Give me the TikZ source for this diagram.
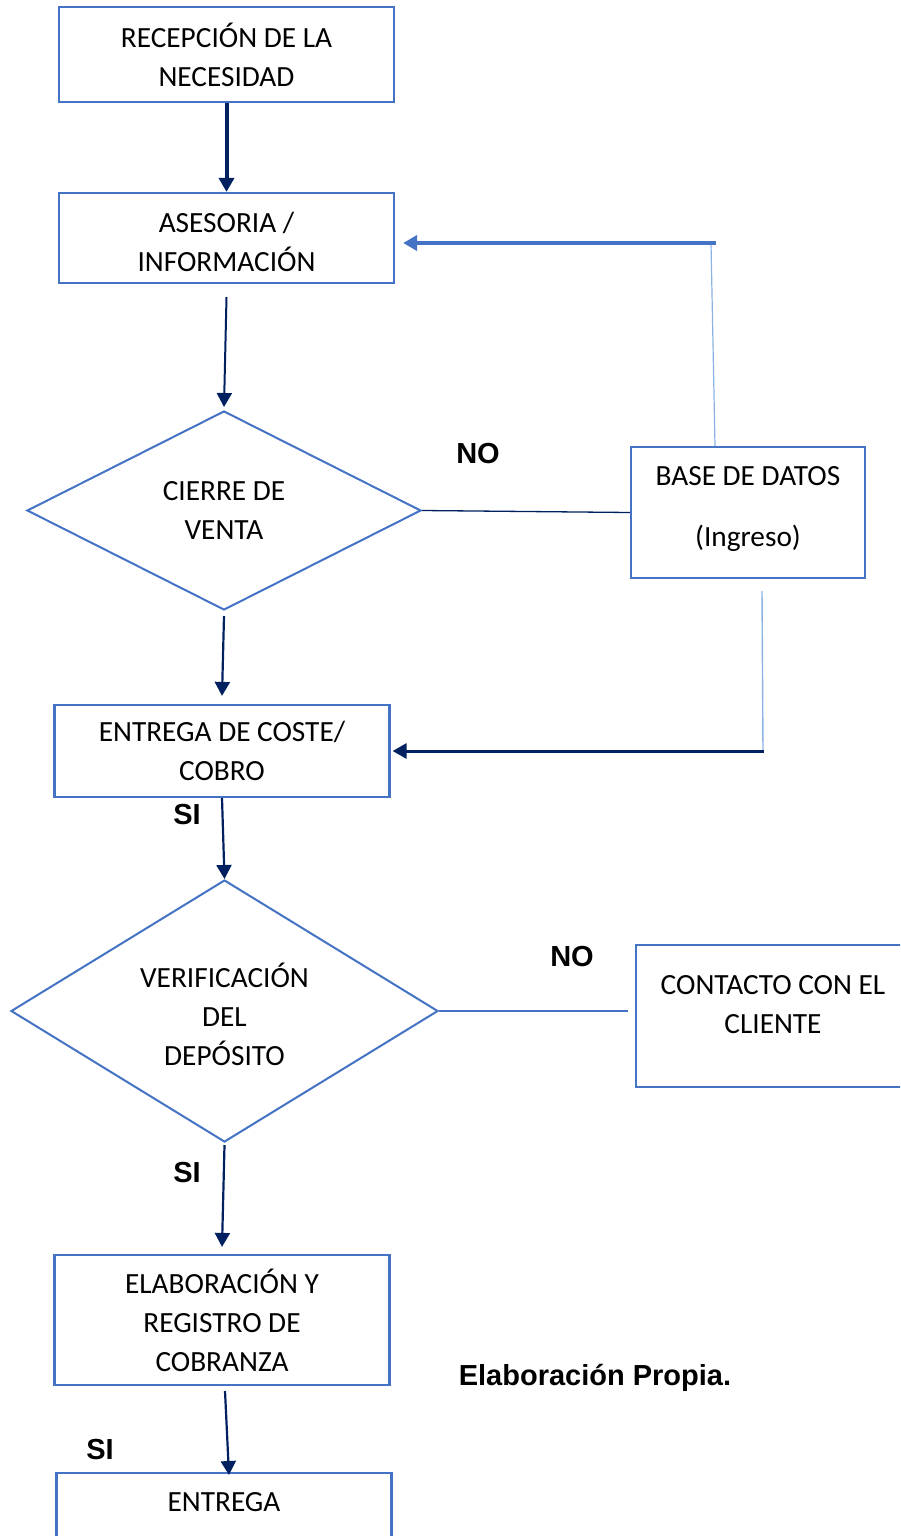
\documentclass[tikz,border=0pt]{standalone}
\usepackage{fontspec}
\setmainfont{Carlito}
\newfontfamily\labelfont{Liberation Sans}
\usetikzlibrary{shapes.geometric,arrows.meta}
\definecolor{boxblue}{HTML}{4472C4}
\definecolor{navy}{HTML}{002060}
\definecolor{lightline}{HTML}{8AB2E2}

\begin{document}
\begin{tikzpicture}[x=1pt,y=-1pt,
  every node/.style={font=\fontsize{29.3}{39}\selectfont,align=center},
  procbox/.style={draw=boxblue,line width=2.2pt,rectangle,minimum width=335pt,inner sep=0pt},
  decision/.style={draw=boxblue,line width=2pt,diamond,aspect=1.6,inner sep=0pt},
  tip/.style={-{Triangle[width=15pt,length=14pt]}},
  flow/.style={draw=navy,tip},
  tag/.style={font=\labelfont\bfseries\fontsize{29}{34}\selectfont}]

\useasboundingbox (0,0) rectangle (900,1536);
\clip (0,0) rectangle (900,1536);

% process steps
\node[procbox,minimum height=95pt] (recep) at (226.5,54.5) {RECEPCIÓN DE LA\\NECESIDAD};
\node[procbox,minimum height=90pt] (aseso) at (226.5,238) {};
\node (asesotxt) at (226.5,242) {ASESORIA /\\INFORMACIÓN};
\node[decision,minimum width=394pt,minimum height=199pt] (cierre) at (224,510.5) {CIERRE DE\\VENTA};
\node[procbox,minimum width=234pt,minimum height=131pt] (base) at (748,512.5) {};
\node (basetxt) at (748,509) {BASE DE DATOS\\[22pt](Ingreso)};
\node[procbox,minimum height=92pt] (coste) at (222,751) {ENTREGA DE COSTE/\\COBRO};
\node[decision,minimum width=427pt,minimum height=262pt] (verif) at (224.5,1011) {};
\node (veriftxt) at (224.5,1014) {VERIFICACIÓN\\DEL\\DEPÓSITO};
\node[procbox,minimum width=300pt,minimum height=142pt,anchor=north west] (contacto) at (635,944) {};
\node (contactotxt) at (773,1005) {CONTACTO CON EL\\CLIENTE};
\node[procbox,minimum height=130pt] (elab) at (222,1320) {ELABORACIÓN Y\\REGISTRO DE\\COBRANZA};
\node[procbox,minimum height=95pt,anchor=north] (entrega) at (224,1472) {};
\node (entregatxt) at (224,1502) {ENTREGA};

% branch labels
\node[tag] (no1) at (478,454) {NO};
\node[tag] (si1) at (187,815) {SI};
\node[tag] (no2) at (572,957) {NO};
\node[tag] (si2) at (187,1173) {SI};
\node[tag] (si3) at (100,1449) {SI};
\node[tag] (fuente) at (595,1378) {Elaboración Propia.};

% main flow
\draw[flow,line width=4pt] (recep.south) -- (aseso.north);
\draw[flow,line width=2pt] ([yshift=-13pt]aseso.south) -- ([yshift=3pt]cierre.north);
\draw[flow,line width=2.2pt] ([yshift=-5pt]cierre.south) -- ([yshift=8pt]coste.north);
\draw[flow,line width=2.2pt] (coste.south) -- (verif.north);
\draw[flow,line width=2.2pt] ([yshift=-2pt]verif.south) -- ([yshift=7pt]elab.north);
\draw[flow,line width=2.2pt] ([xshift=3pt,yshift=-5pt]elab.south) -- ([xshift=5pt,yshift=-3pt]entrega.north);

% "no" branches
\draw[navy,line width=1.3pt] (cierre.east) -- (base.west);
\draw[boxblue,line width=1.5pt] (verif.east) -- ([xshift=-7pt]contacto.west |- verif.east);

% feedback from the database
\coordinate (topcorner) at (711,243);
\coordinate (botcorner) at (763,751);
\draw[lightline,line width=1.2pt] ([xshift=-33pt]base.north) -- (topcorner);
\draw[boxblue,line width=4pt,tip] ([xshift=5pt]topcorner) -- ([xshift=8pt]aseso.east |- topcorner);
\draw[lightline,line width=1.4pt] ([xshift=14pt,yshift=-12pt]base.south) -- (botcorner);
\draw[navy,line width=3pt,tip] ([xshift=1pt]botcorner) -- ([xshift=2pt]coste.east);
\end{tikzpicture}
\end{document}
